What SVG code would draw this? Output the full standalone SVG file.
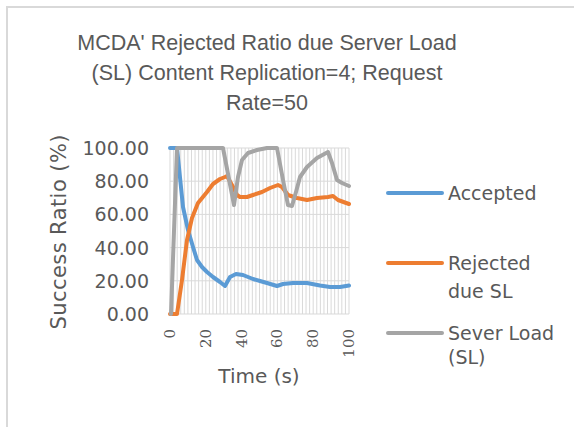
<svg xmlns="http://www.w3.org/2000/svg" width="574" height="427" viewBox="0 0 574 427">
<style>
.frame{fill:none;stroke:#d9d9d9;stroke-width:2}
.grid{fill:none;stroke:#d9d9d9;stroke-width:1}
.t{fill:#595959;font-family:"DejaVu Sans",sans-serif}
.title{fill:#595959;font-family:"Liberation Sans",Arial,sans-serif;font-size:21.5px;text-anchor:middle}
.ytick{font-size:19px;text-anchor:end}
.xtick{fill:#595959;font-family:"DejaVu Serif",serif;font-size:15px;text-anchor:end}
.leg{font-size:19px}
.s{fill:none;stroke-width:4;stroke-linejoin:round;stroke-linecap:round}
.acc{stroke:#5b9bd5}
.rej{stroke:#ed7d31}
.sl{stroke:#a5a5a5}
</style>
<rect width="574" height="427" fill="#ffffff"/>
<path class="frame" d="M7,427 V7 H574"/>
<g id="title">
<text class="title" x="267" y="50">MCDA' Rejected Ratio due Server Load</text>
<text class="title" x="267" y="80">(SL) Content Replication=4; Request</text>
<text class="title" x="267" y="110">Rate=50</text>
</g>
<g id="grid">
<path class="grid" d="M170,148V314M173.58,148V314M177.16,148V314M180.74,148V314M184.32,148V314M187.9,148V314M191.48,148V314M195.06,148V314M198.64,148V314M202.22,148V314M205.8,148V314M209.38,148V314M212.96,148V314M216.54,148V314M220.12,148V314M223.7,148V314M227.28,148V314M230.86,148V314M234.44,148V314M238.02,148V314M241.6,148V314M245.18,148V314M248.76,148V314M252.34,148V314M255.92,148V314M259.5,148V314M263.08,148V314M266.66,148V314M270.24,148V314M273.82,148V314M277.4,148V314M280.98,148V314M284.56,148V314M288.14,148V314M291.72,148V314M295.3,148V314M298.88,148V314M302.46,148V314M306.04,148V314M309.62,148V314M313.2,148V314M316.78,148V314M320.36,148V314M323.94,148V314M327.52,148V314M331.1,148V314M334.68,148V314M338.26,148V314M341.84,148V314M345.42,148V314M349,148V314"/>
<path class="grid" d="M170,148H349M170,181.2H349M170,214.4H349M170,247.6H349M170,280.8H349M170,314H349"/>
</g>
<g id="y-axis">
<text class="t ytick" x="149" y="155">100.00</text>
<text class="t ytick" x="149" y="188.2">80.00</text>
<text class="t ytick" x="149" y="221.4">60.00</text>
<text class="t ytick" x="149" y="254.6">40.00</text>
<text class="t ytick" x="149" y="287.8">20.00</text>
<text class="t ytick" x="149" y="321">0.00</text>
<text class="t" font-size="21" text-anchor="middle" textLength="195" transform="translate(66,232) rotate(-90)">Success Ratio (%)</text>
</g>
<g id="x-axis">
<text class="xtick" transform="translate(175,329) rotate(-90)">0</text>
<text class="xtick" transform="translate(211,329) rotate(-90)">20</text>
<text class="xtick" transform="translate(246.5,329) rotate(-90)">40</text>
<text class="xtick" transform="translate(282,329) rotate(-90)">60</text>
<text class="xtick" transform="translate(318,329) rotate(-90)">80</text>
<text class="xtick" transform="translate(354,329) rotate(-90)">100</text>
<text class="t" font-size="20" x="259" y="383" text-anchor="middle">Time (s)</text>
</g>
<g id="series">
<path id="accepted" class="s acc" d="M170,148 L177,148 L183,207 L188,230 L193,247 L197,260 L202,267 L207,272 L213,277 L220,282 L225,286 L230,277 L236,274 L243,275 L253,279 L260,281 L267,283 L277,286 L283,284 L293,283 L307,283 L320,285.5 L330,287 L340,287 L349,285.5"/>
<path id="rejected" class="s rej" d="M170,314 L177,314 L182,280 L187,240 L192,218 L198,203 L207,192 L213,184 L220,179 L225,177 L227,176 L233,187 L237,195 L240,197 L247,197 L253,195 L262,192 L270,188 L278,185 L282,187 L288,195 L297,198 L307,200 L317,198 L328,197 L333,196 L338,200 L349,204"/>
<path id="serverload" class="s sl" d="M171,314 L177,148 L223,148 L234,205 L238,177 L242,160 L248,153 L257,150 L267,148 L277,148 L283,180 L288,205 L292,206 L296,192 L300,177 L307,167 L317,158 L328,152 L332,163 L337,180 L342,183 L349,186"/>
</g>
<g id="legend">
<line class="s acc" x1="388" y1="193" x2="442" y2="193"/>
<text class="t leg" x="448" y="200">Accepted</text>
<line class="s rej" x1="388" y1="263" x2="442" y2="263"/>
<text class="t leg" x="448" y="270">Rejected</text>
<text class="t leg" x="448" y="298">due SL</text>
<line class="s sl" x1="388" y1="333" x2="442" y2="333"/>
<text class="t leg" x="448" y="340">Sever Load</text>
<text class="t leg" x="448" y="364">(SL)</text>
</g>
</svg>
